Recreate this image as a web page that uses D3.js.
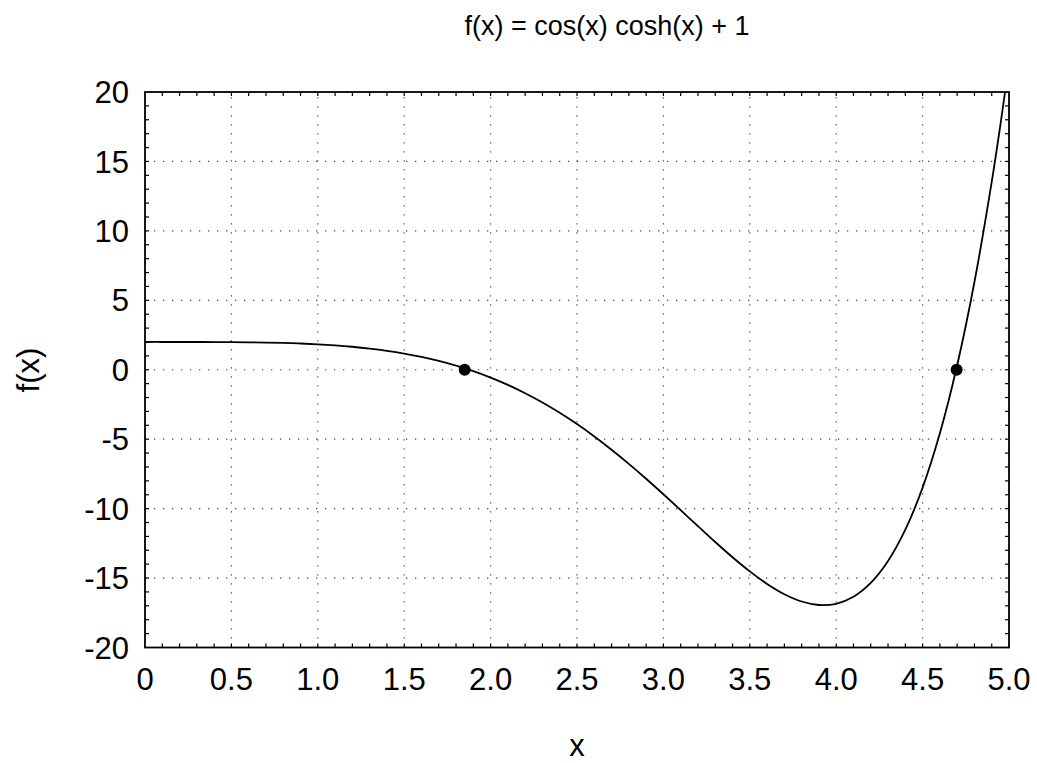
<!DOCTYPE html>
<html>
<head>
<meta charset="utf-8">
<script src="https://cdn.jsdelivr.net/npm/d3@7"></script>
<style>
  html, body { margin: 0; padding: 0; background: #fff; }
  svg { display: block; font-family: "Liberation Sans", Arial, sans-serif; }
</style>
</head>
<body>
<svg id="chart" width="1037" height="763"></svg>
<script>
// Curve samples (x, f(x))
const xs = [0,0.1,0.2,0.3,0.4,0.5,0.6,0.7,0.8,0.9,1.0,1.1,1.2,1.3,1.4,1.5,1.6,1.7,1.8,1.9,2.0,
            2.1,2.2,2.3,2.4,2.5,2.6,2.7,2.8,2.9,3.0,3.1,3.2,3.3,3.4,3.5,3.6,3.7,3.8,3.9,4.0,
            4.1,4.2,4.3,4.4,4.5,4.6,4.7,4.8,4.9,4.95,5.0];
const ys = [2.000,2.000,1.9997,1.9987,1.9957,1.9896,1.9784,1.9600,1.9318,1.8908,1.8337,1.7568,1.6561,1.5272,1.3656,1.1664,0.9247,0.6356,0.2940,-0.1049,-0.5656,
            -1.0922,-1.6882,-2.3562,-3.0977,-3.9128,-4.8003,-5.7566,-6.7759,-7.8499,-8.9669,-10.1118,-11.2657,-12.4052,-13.5021,-14.5197,-15.4221,-16.1622,-16.6874,-16.9389,-16.8499,
            -16.3469,-15.3496,-13.7721,-11.5181,-8.4888,-4.5793,0.3189,6.3164,13.5240,17.62,22.0506];
// Marked roots
const rootX = [1.85, 4.697];
const rootY = [0, 0];
// Tick labels
const xTicks = [0,0.5,1.0,1.5,2.0,2.5,3.0,3.5,4.0,4.5,5.0];
const xTickLabels = ["0","0.5","1.0","1.5","2.0","2.5","3.0","3.5","4.0","4.5","5.0"];
const yTicks = [-20,-15,-10,-5,0,5,10,15,20];
const yTickLabels = ["-20","-15","-10","-5","0","5","10","15","20"];
const titleText = "f(x) = cos(x) cosh(x) + 1";
const xLabel = "x";
const yLabel = "f(x)";

const svg = d3.select("#chart");
const L = 145, R = 1009, T = 92, B = 647.5;
const x = d3.scaleLinear().domain([0, 5]).range([L, R]);
const y = d3.scaleLinear().domain([-20, 20]).range([B, T]);

// grid
const grid = svg.append("g").attr("stroke", "#444").attr("stroke-width", 1.2)
  .attr("stroke-dasharray", "1.3,7.7");
grid.selectAll("line.vx").data(xTicks.slice(1, -1)).join("line")
  .attr("x1", d => x(d)).attr("x2", d => x(d)).attr("y1", B).attr("y2", T);
grid.selectAll("line.hy").data(yTicks.slice(1, -1)).join("line")
  .attr("y1", d => y(d)).attr("y2", d => y(d)).attr("x1", L).attr("x2", R);

// minor ticks inward on all sides
const xMinor = d3.range(1, 50).map(i => i / 10);
const yMinor = d3.range(-19, 20);
const tk = svg.append("g").attr("stroke", "#000").attr("stroke-width", 1.2);
tk.selectAll("line.xb").data(xMinor).join("line")
  .attr("x1", d => x(d)).attr("x2", d => x(d)).attr("y1", B).attr("y2", B - 4);
tk.selectAll("line.xt").data(xMinor).join("line")
  .attr("x1", d => x(d)).attr("x2", d => x(d)).attr("y1", T).attr("y2", T + 4);
tk.selectAll("line.yl").data(yMinor).join("line")
  .attr("y1", d => y(d)).attr("y2", d => y(d)).attr("x1", L).attr("x2", L + 4);
tk.selectAll("line.yr").data(yMinor).join("line")
  .attr("y1", d => y(d)).attr("y2", d => y(d)).attr("x1", R).attr("x2", R - 4);

// clip + curve
svg.append("clipPath").attr("id", "clip").append("rect")
  .attr("x", L).attr("y", T).attr("width", R - L).attr("height", B - T);
const pts = xs.map((v, i) => [v, ys[i]]);
svg.append("path").datum(pts)
  .attr("clip-path", "url(#clip)")
  .attr("fill", "none").attr("stroke", "#000").attr("stroke-width", 1.8)
  .attr("d", d3.line().x(d => x(d[0])).y(d => y(d[1])).curve(d3.curveCatmullRom.alpha(0.5)));

// frame
svg.append("rect").attr("x", L).attr("y", T).attr("width", R - L).attr("height", B - T)
  .attr("fill", "none").attr("stroke", "#000").attr("stroke-width", 1.8);

// root markers
svg.selectAll("circle.root").data(rootX).join("circle")
  .attr("cx", d => x(d)).attr("cy", (d, i) => y(rootY[i])).attr("r", 6).attr("fill", "#000");

// tick labels
svg.append("g").selectAll("text").data(xTicks).join("text")
  .attr("x", d => x(d)).attr("y", 690).attr("text-anchor", "middle")
  .attr("font-size", 31).text((d, i) => xTickLabels[i]);
svg.append("g").selectAll("text").data(yTicks).join("text")
  .attr("x", 129).attr("y", d => y(d)).attr("dy", "0.36em").attr("text-anchor", "end")
  .attr("font-size", 31).text((d, i) => yTickLabels[i]);

// title & labels
svg.append("text").attr("x", 607).attr("y", 35).attr("text-anchor", "middle")
  .attr("font-size", 27).text(titleText);
svg.append("text").attr("x", x(2.5)).attr("y", 756).attr("text-anchor", "middle")
  .attr("font-size", 31).text(xLabel);
svg.append("text").attr("transform", "translate(39,370) rotate(-90)").attr("text-anchor", "middle")
  .attr("font-size", 31).text(yLabel);
</script>
</body>
</html>
